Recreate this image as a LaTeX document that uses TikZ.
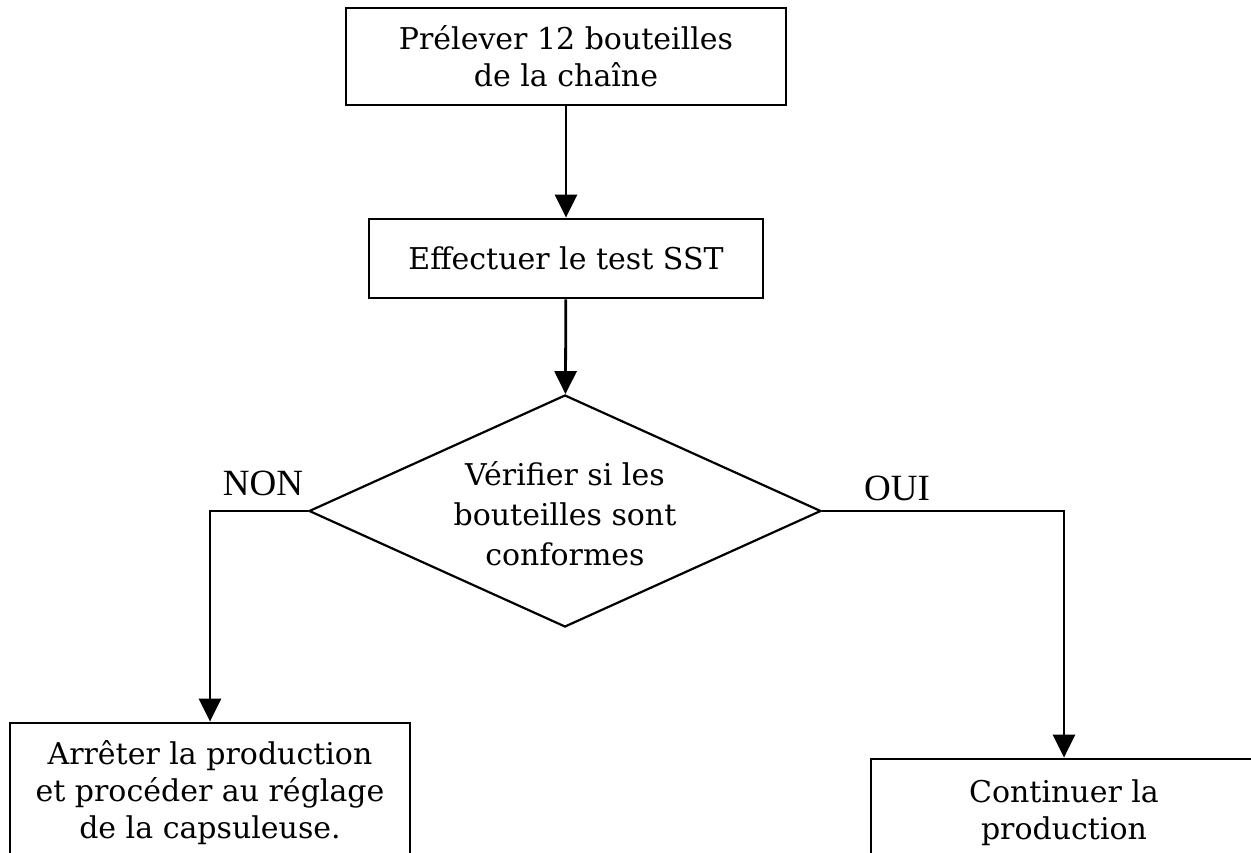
\documentclass[tikz,border=0pt]{standalone}
\usepackage{fontspec}
\setmainfont{DejaVu Serif}
\newfontfamily\labelfont{Liberation Serif}
\usetikzlibrary{shapes.geometric,arrows.meta}
\begin{document}
\begin{tikzpicture}[x=1pt,y=1pt,yscale=-1,xscale=1,
        process/.style={draw,line width=2.8pt,align=center,inner sep=0pt,font=\fontsize{30}{37}\selectfont},
        decision/.style={draw,diamond,line width=2.2pt,inner sep=0pt},
        inside/.style={align=center,inner sep=0pt,font=\fontsize{30}{40}\selectfont},
        flow/.style={line width=2.8pt,-{Triangle[width=22pt,length=23pt]}},
        branch/.style={font=\labelfont\fontsize{37}{40}\selectfont}]
        \useasboundingbox (0,0) rectangle (1251,853);
        \clip (0,0) rectangle (1251,853);

        %Process
        \node [process,minimum width=440pt,minimum height=97pt] (prelever) at (566,56.5) {Prélever 12 bouteilles\\de la chaîne};
        %Process
        \node [process,minimum width=394pt,minimum height=79pt] (test) at (566,258.5) {Effectuer le test SST};
        %Decision
        \node [decision,minimum width=512pt,minimum height=232pt] (verif) at (565,511) {};
        \node [inside] (veriftext) at (565,514) {Vérifier si les\\bouteilles sont\\conformes};
        %Process (cut at the bottom)
        \node [process,minimum width=400pt,minimum height=140pt] (arreter) at (210,793) {Arrêter la production\\et procéder au réglage\\de la capsuleuse.};
        %Process (cut at the bottom)
        \node [process,minimum width=386pt,minimum height=108pt] (continuer) at (1064,813) {Continuer la\\production};

        % Text Node
        \node [branch] (non) at (263,483) {NON};
        % Text Node
        \node [branch] (oui) at (897,488) {OUI};

        %Connectors
        \draw [flow] (prelever) -- (test);
        \draw [flow] (test) -- (verif);
        \draw [flow] (verif.west) -| (arreter.north);
        \draw [flow] (verif.east) -| (continuer.north);
\end{tikzpicture}
\end{document}
